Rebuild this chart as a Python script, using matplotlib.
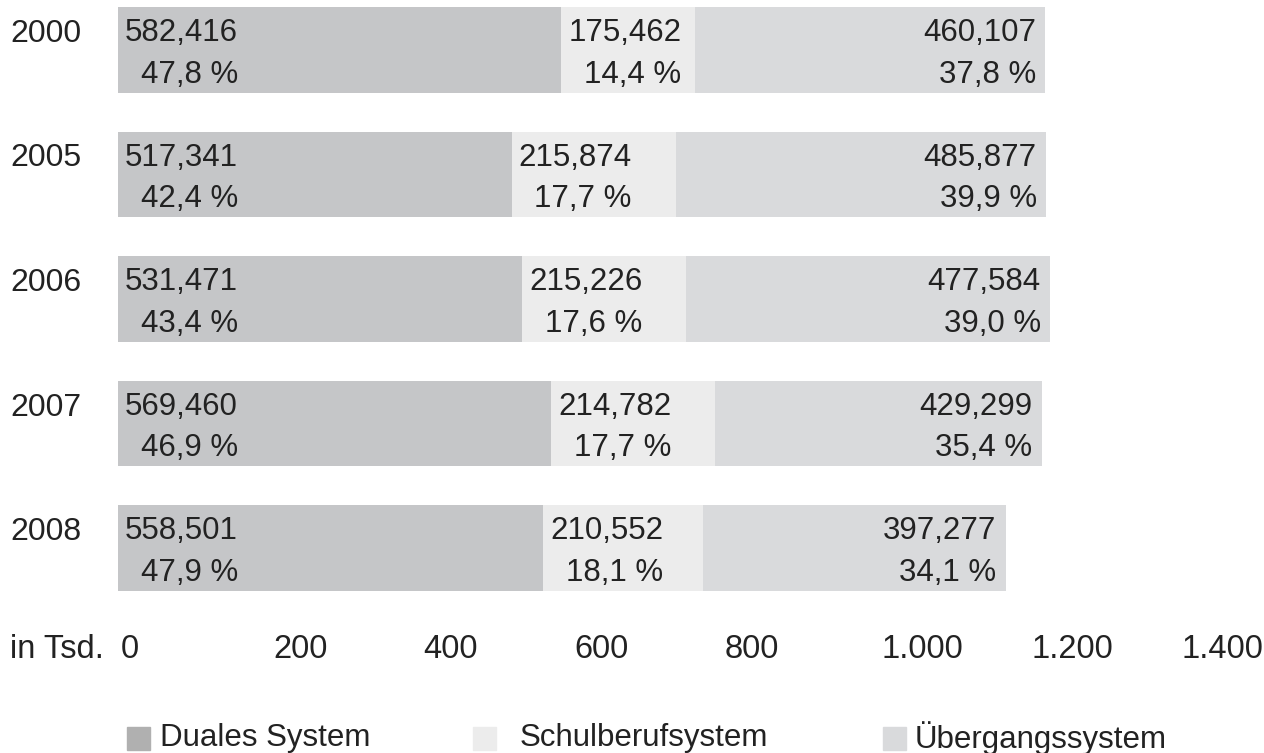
import matplotlib.pyplot as plt

plt.rcParams['font.family'] = ['Liberation Sans', 'DejaVu Sans']

years = ['2000', '2005', '2006', '2007', '2008']
duales = [582.416, 517.341, 531.471, 569.460, 558.501]
schul = [175.462, 215.874, 215.226, 214.782, 210.552]
uebergang = [460.107, 485.877, 477.584, 429.299, 397.277]
duales_pct = ['47,8 %', '42,4 %', '43,4 %', '46,9 %', '47,9 %']
schul_pct = ['14,4 %', '17,7 %', '17,6 %', '17,7 %', '18,1 %']
ueber_pct = ['37,8 %', '39,9 %', '39,0 %', '35,4 %', '34,1 %']
tick_labels = ['0', '200', '400', '600', '800', '1.000', '1.200', '1.400']
series = ['Duales System', 'Schulberufsystem', 'Übergangssystem']

colors = ['#c5c6c8', '#ececec', '#d9dadc']
legend_colors = ['#b0b0b0', '#ececec', '#d9dadc']
txt_color = '#222222'

W, H = 1264, 753
fig = plt.figure(figsize=(W / 100, H / 100), dpi=100)

# axes: x=0 at px 118, 0.761 px per unit
px_per_unit = 0.761
ax_left, ax_top, ax_bottom = 118, 0, 620
xmax = (W - ax_left) / px_per_unit
ax = fig.add_axes([ax_left / W, 1 - ax_bottom / H, (W - ax_left) / W, (ax_bottom - ax_top) / H])
spacing = 124.5
first = 50
ax.set_xlim(0, xmax)
ax.set_ylim((ax_bottom - first) / spacing, (ax_top - first) / spacing)
ax.axis('off')

fs = 22.5
ls = 1.5
ypos = range(len(years))
ax.barh(ypos, duales, height=0.69, color=colors[0])
ax.barh(ypos, schul, left=duales, height=0.69, color=colors[1])
left3 = [a + b for a, b in zip(duales, schul)]
ax.barh(ypos, uebergang, left=left3, height=0.69, color=colors[2])

pad = 7 / px_per_unit
dy = 4 / spacing  # nudge labels a bit downward
def fmt(v):
    return f'{v:.3f}'.replace('.', ',')

for i, y in enumerate(ypos):
    ax.text(pad, y + dy, fmt(duales[i]) + '\n' + duales_pct[i], ha='left', va='center',
            multialignment='right', fontsize=fs, linespacing=ls, color=txt_color)
    ax.text(duales[i] + pad, y + dy, fmt(schul[i]) + '\n' + schul_pct[i], ha='left', va='center',
            multialignment='right', fontsize=fs, linespacing=ls, color=txt_color)
    end = left3[i] + uebergang[i]
    ax.text(end - 9 / px_per_unit, y + dy, fmt(uebergang[i]) + '\n' + ueber_pct[i], ha='right',
            va='center', multialignment='right', fontsize=fs, linespacing=ls, color=txt_color)
    # year label at first-line level
    fig.text(10 / W, 1 - (first + y * spacing - 16) / H, years[i], ha='left', va='center',
             fontsize=23, color=txt_color)

# x tick labels (positions as in the original layout)
tick_px = [130, 301, 450, 601, 752, 922, 1072, 1222]
for px, lab in zip(tick_px, tick_labels):
    fig.text(px / W, 1 - 650 / H, lab, ha='center', va='center', fontsize=23.5, color=txt_color)
fig.text(10 / W, 1 - 650 / H, 'in Tsd.', ha='left', va='center', fontsize=23.5, color=txt_color)

# legend
leg_sq = [127, 473, 883]
leg_txt = [160, 520, 915]
for sq, tx, c, name in zip(leg_sq, leg_txt, legend_colors, series):
    fig.patches.append(plt.Rectangle((sq / W, 1 - 750 / H), 23 / W, 23 / H,
                                     transform=fig.transFigure, color=c))
    fig.text(tx / W, 1 - 738 / H, name, ha='left', va='center', fontsize=22.5, color=txt_color)

fig.savefig('out.png', dpi=100)
